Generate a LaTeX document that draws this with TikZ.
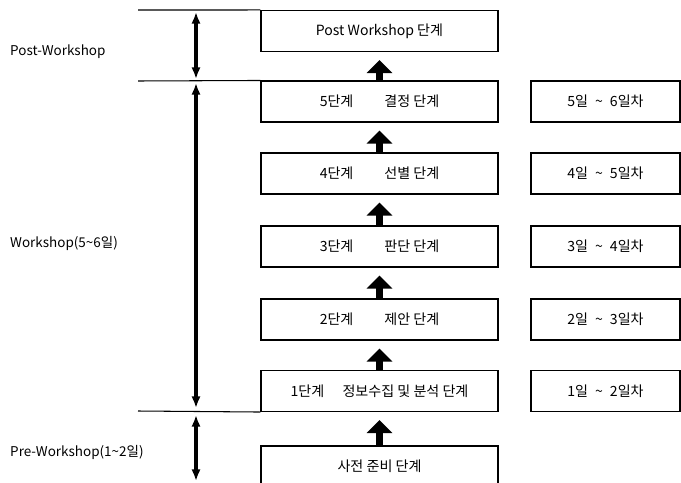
\documentclass[tikz,border=0pt]{standalone}
\usepackage{fontspec}
\setmainfont{Noto Sans CJK KR}
\usetikzlibrary{arrows.meta,positioning}
\newcommand{\tl}{\textasciitilde}
\tikzset{
  stagebox/.style={draw,line width=0.9pt,minimum width=7.11cm,minimum height=1.23cm,inner sep=0pt,font=\fontsize{12}{14}\selectfont},
  daybox/.style={stagebox,minimum width=4.47cm},
  phase/.style={anchor=west,inner sep=0pt,font=\fontsize{11.5}{14}\selectfont},
  uparrow/.style={line width=6pt,-{Triangle[length=0.39cm,width=0.75cm]},shorten >=0.24cm},
  spanarrow/.style={line width=2.6pt,{Latex[length=10pt,width=8pt]}-{Latex[length=10pt,width=8pt]}}
}

\begin{document}
\begin{tikzpicture}[x=0.03cm,y=-0.03cm]
  \useasboundingbox (0,0) rectangle (681,482);
  % stages
  \node[stagebox] (post) at (379.5,31) {Post Workshop 단계};
  \node[stagebox] (s5) at (379.5,101.5) {5단계\hspace{2.2em}결정 단계};
  \node[stagebox] (s4) at (379.5,173.5) {4단계\hspace{2.2em}선별 단계};
  \node[stagebox] (s3) at (379.5,246.5) {3단계\hspace{2.2em}판단 단계};
  \node[stagebox] (s2) at (379.5,319.5) {2단계\hspace{2.2em}제안 단계};
  \node[stagebox] (s1) at (379.5,391) {1단계\hspace{1.3em}정보수집 및 분석 단계};
  \node[stagebox] (pre) at (379.5,466.5) {사전 준비 단계};
  % days
  \node[daybox] (d5) at (605.5,101.5) {5일\enspace\tl\enspace 6일차};
  \node[daybox] (d4) at (605.5,173.5) {4일\enspace\tl\enspace 5일차};
  \node[daybox] (d3) at (605.5,246.5) {3일\enspace\tl\enspace 4일차};
  \node[daybox] (d2) at (605.5,319.5) {2일\enspace\tl\enspace 3일차};
  \node[daybox] (d1) at (605.5,391) {1일\enspace\tl\enspace 2일차};
  % flow arrows
  \draw[uparrow] (pre.north) -- (s1.south);
  \draw[uparrow] (s1.north) -- (s2.south);
  \draw[uparrow] (s2.north) -- (s3.south);
  \draw[uparrow] (s3.north) -- (s4.south);
  \draw[uparrow] (s4.north) -- (s5.south);
  \draw[uparrow] (s5.north) -- (post.south);
  % phase borders
  \coordinate (b1) at (138,10);
  \coordinate (b2) at (138,81);
  \coordinate (b3) at (138,411);
  \draw[line width=0.9pt] (b1) -- (post.north west);
  \draw[line width=0.9pt] (b2) -- (s5.north west);
  \draw[line width=0.9pt] (b3) -- (s1.south west);
  % phase spans
  \coordinate (p1) at (196,12);
  \coordinate (p2) at (196,79);
  \coordinate (w1) at (196,83);
  \coordinate (w2) at (196,408);
  \coordinate (r1) at (196,415);
  \coordinate (r2) at (196,481);
  \draw[spanarrow] (p1) -- (p2);
  \draw[spanarrow] (w1) -- (w2);
  \draw[spanarrow] (r1) -- (r2);
  \node[phase] (lpost) at (10,52) {Post-Workshop};
  \node[phase] (lwork) at (10,243) {Workshop(5\tl6일)};
  \node[phase] (lpre) at (10,452) {Pre-Workshop(1\tl2일)};
\end{tikzpicture}
\end{document}
